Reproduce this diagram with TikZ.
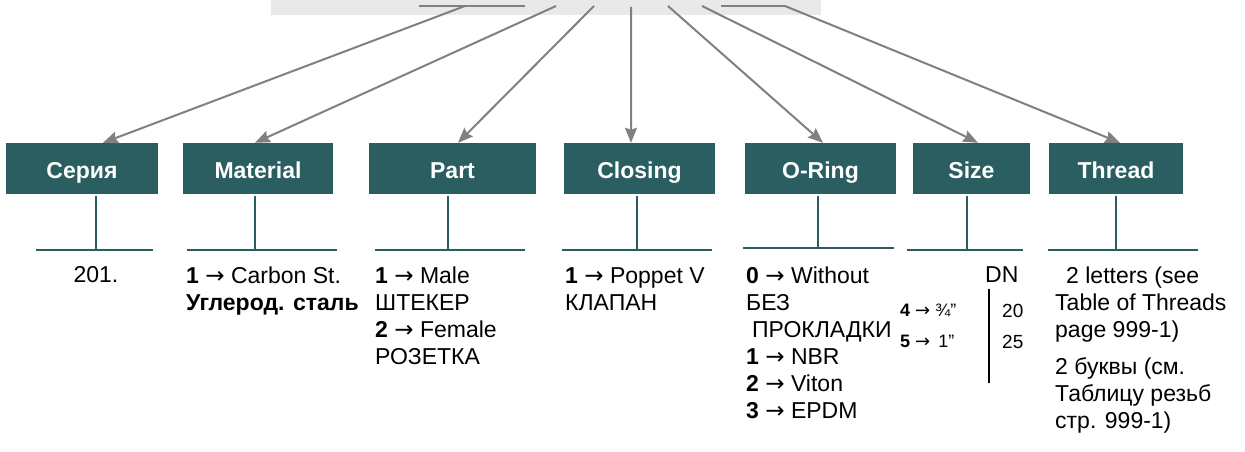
\documentclass[tikz,border=0pt]{standalone}
\usepackage{fontspec}
\setmainfont{Liberation Sans}
\newfontfamily\arrowfont{DejaVu Sans}
\newcommand\codearrow{{\arrowfont\mdseries →}}
\usetikzlibrary{arrows.meta,positioning,calc}
\definecolor{boxteal}{RGB}{43,94,97}
\definecolor{bargray}{RGB}{233,233,233}
\definecolor{arrowgray}{RGB}{128,128,128}
\tikzset{
  field/.style={fill=boxteal,text=white,font=\fontsize{23bp}{27bp}\selectfont\bfseries,minimum height=51bp,inner sep=0pt,text height=21bp,text depth=0bp},
  arr/.style={-{Stealth[length=15bp,width=12bp,inset=2bp]},line width=2bp,draw=arrowgray},
  feed/.style={line width=2bp,draw=arrowgray},
  stem/.style={line width=1.8bp,draw=boxteal},
  code/.style={font=\fontsize{23bp}{27bp}\selectfont,align=left,anchor=north west,inner sep=0pt}
}

\begin{document}
\begin{tikzpicture}[
  x=1bp,y=-1bp,
  small/.style={font=\fontsize{18bp}{20bp}\selectfont,anchor=base west,inner sep=0pt},
  sizebar/.style={line width=2.5bp,draw=black}
]
\useasboundingbox (0,0) rectangle (1245,452);

% selector bar on top
\node[fill=bargray,minimum width=550bp,minimum height=15bp,inner sep=0pt] (bar) at (546,7.5) {};

% code fields
\node[field,minimum width=152bp] (ser)  at (82,168.5)    {Серия};
\node[field,minimum width=150bp] (mat)  at (258,168.5)   {Material};
\node[field,minimum width=167bp] (prt)  at (452.5,168.5) {Part};
\node[field,minimum width=151bp] (cls)  at (639.5,168.5) {Closing};
\node[field,minimum width=151bp] (orng) at (820.5,168.5) {O-Ring};
\node[field,minimum width=117bp] (siz)  at (971.5,168.5) {Size};
\node[field,minimum width=134bp] (thr)  at (1116,168.5)  {Thread};

% arrows from the bar
\coordinate (serfrom)  at (465,6);
\coordinate (matfrom)  at (556,6);
\coordinate (prtfrom)  at (594,6);
\coordinate (clsfrom)  at (631,7);
\coordinate (orngfrom) at (668,6);
\coordinate (sizfrom)  at (702,6);
\coordinate (thrfrom)  at (785,6);

\draw[feed] ([xshift=-46bp]serfrom) -- ([xshift=60bp]serfrom);
\draw[feed] ([xshift=-64bp]thrfrom) -- (thrfrom);

\draw[arr] (serfrom)  -- ([xshift=21bp]ser.north);
\draw[arr] (matfrom)  -- ([xshift=-3bp]mat.north);
\draw[arr] (prtfrom)  -- ([xshift=5.5bp]prt.north);
\draw[arr] (clsfrom)  -- ([xshift=-8.5bp]cls.north);
\draw[arr] (orngfrom) -- ([xshift=2.5bp]orng.north);
\draw[arr] (sizfrom)  -- ([xshift=6.5bp]siz.north);
\draw[arr] (thrfrom)  -- ([xshift=4bp]thr.north);

% brackets under the fields
\coordinate (serfoot)  at (96,250);
\coordinate (matfoot)  at (255,250);
\coordinate (prtfoot)  at (448,250);
\coordinate (clsfoot)  at (637,250);
\coordinate (orngfoot) at (818,248);
\coordinate (sizfoot)  at (967,250);
\coordinate (thrfoot)  at (1116,250);

\draw[stem,shorten <=2bp] (ser.south -| serfoot) -- (serfoot);
\draw[stem] ([xshift=-60bp]serfoot) -- ([xshift=57bp]serfoot);
\draw[stem,shorten <=2bp] (mat.south -| matfoot) -- (matfoot);
\draw[stem] ([xshift=-68bp]matfoot) -- ([xshift=82bp]matfoot);
\draw[stem,shorten <=2bp] (prt.south -| prtfoot) -- (prtfoot);
\draw[stem] ([xshift=-73bp]prtfoot) -- ([xshift=77bp]prtfoot);
\draw[stem,shorten <=2bp] (cls.south -| clsfoot) -- (clsfoot);
\draw[stem] ([xshift=-75bp]clsfoot) -- ([xshift=75bp]clsfoot);
\draw[stem,shorten <=2bp] (orng.south -| orngfoot) -- (orngfoot);
\draw[stem] ([xshift=-75bp]orngfoot) -- ([xshift=76bp]orngfoot);
\draw[stem,shorten <=2bp] (siz.south -| sizfoot) -- (sizfoot);
\draw[stem] ([xshift=-60bp]sizfoot) -- ([xshift=56bp]sizfoot);
\draw[stem,shorten <=2bp] (thr.south -| thrfoot) -- (thrfoot);
\draw[stem] ([xshift=-68bp]thrfoot) -- ([xshift=82bp]thrfoot);

% values
\node[font=\fontsize{23bp}{27bp}\selectfont,anchor=base,inner sep=0pt] (sertxt) at (96,283) {201.};
\node[code] (mattxt) at (186,264.1)
  {\strut\textbf{1} \codearrow{} Carbon St.\\\textbf{Углерод. сталь}};
\node[code] (prttxt) at (375,264.1)
  {\strut\textbf{1} \codearrow{} Male\\ШТЕКЕР\\\textbf{2} \codearrow{} Female\\РОЗЕТКА};
\node[code] (clstxt) at (565,264.1)
  {\strut\textbf{1} \codearrow{} Poppet V\\КЛАПАН};
\node[code] (orngtxt) at (746,264.1)
  {\strut\textbf{0} \codearrow{} Without\\БЕЗ\\\hspace*{6bp}ПРОКЛАДКИ\\\textbf{1} \codearrow{} NBR\\\textbf{2} \codearrow{} Viton\\\textbf{3} \codearrow{} EPDM};

\node[code,anchor=base west] (dn) at (985,283) {DN};
\node[small] (s4)  at (900,317)  {\textbf{4} \codearrow{} ¾”};
\node[small] (s5)  at (900,348)  {\textbf{5} \codearrow{} \hspace*{3bp}1”};
\node[small,font=\fontsize{19bp}{21bp}\selectfont] (d20) at (1002,318) {20};
\node[small,font=\fontsize{19bp}{21bp}\selectfont] (d25) at (1002,349) {25};
\draw[sizebar] (989,289) -- (989,383);

\node[code] (thrtxt) at (1055,264.1)
  {\strut\hspace*{11bp}2 letters (see\\Table of Threads\\page 999-1)\\[10bp]2 буквы (см.\\Таблицу резьб\\стр. 999-1)};

\end{tikzpicture}
\end{document}
